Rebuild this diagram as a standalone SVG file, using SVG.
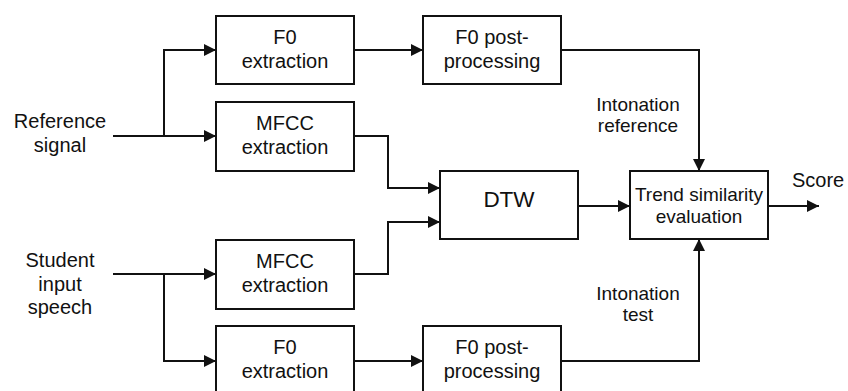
<svg xmlns="http://www.w3.org/2000/svg" width="848" height="391" viewBox="0 0 848 391">
  <defs>
    <marker id="arrow" markerUnits="userSpaceOnUse" markerWidth="12" markerHeight="12" refX="12" refY="6" orient="auto">
      <path d="M0,0 L12,6 L0,12 Z" fill="#111"/>
    </marker>
    <style>
      .box { fill: #fff; stroke: #111; stroke-width: 2; }
      .lbl { font-family: "Liberation Sans", Arial, sans-serif; font-size: 20px; fill: #111; text-anchor: middle; }
      .sm { font-size: 19px; }
      .big { font-size: 22.5px; }
      .wire { fill: none; stroke: #111; stroke-width: 2; }
      .arr { marker-end: url(#arrow); }
    </style>
  </defs>
  <rect width="848" height="391" fill="#fff"/>

  <!-- free labels -->
  <g id="ref-signal">
    <text class="lbl" x="60" y="128">Reference</text>
    <text class="lbl" x="60" y="152">signal</text>
  </g>
  <g id="student-speech">
    <text class="lbl" x="60" y="267">Student</text>
    <text class="lbl" x="60" y="291">input</text>
    <text class="lbl" x="60" y="314">speech</text>
  </g>
  <g id="lbl-into-ref">
    <text class="lbl sm" x="638" y="111">Intonation</text>
    <text class="lbl sm" x="638" y="132">reference</text>
  </g>
  <g id="lbl-into-test">
    <text class="lbl sm" x="638" y="300">Intonation</text>
    <text class="lbl sm" x="638" y="321">test</text>
  </g>
  <g id="score">
    <text class="lbl" x="792" y="187" style="text-anchor:start">Score</text>
  </g>

  <!-- processing blocks -->
  <g id="f0-extract-ref">
    <rect class="box" x="216" y="16" width="138" height="68"/>
    <text class="lbl" x="285" y="44">F0</text>
    <text class="lbl" x="285" y="68">extraction</text>
  </g>
  <g id="f0-post-ref">
    <rect class="box" x="423" y="16" width="138" height="68"/>
    <text class="lbl" x="492" y="44">F0 post-</text>
    <text class="lbl" x="492" y="68">processing</text>
  </g>
  <g id="mfcc-ref">
    <rect class="box" x="216" y="102" width="138" height="69"/>
    <text class="lbl" x="285" y="130">MFCC</text>
    <text class="lbl" x="285" y="154">extraction</text>
  </g>
  <g id="dtw">
    <rect class="box" x="440" y="171" width="138" height="68"/>
    <text class="lbl big" x="509" y="207">DTW</text>
  </g>
  <g id="trend">
    <rect class="box" x="630" y="171" width="138" height="68"/>
    <text class="lbl sm" x="699" y="201">Trend similarity</text>
    <text class="lbl sm" x="699" y="223">evaluation</text>
  </g>
  <g id="mfcc-test">
    <rect class="box" x="216" y="240" width="138" height="69"/>
    <text class="lbl" x="285" y="268">MFCC</text>
    <text class="lbl" x="285" y="292">extraction</text>
  </g>
  <g id="f0-extract-test">
    <rect class="box" x="216" y="326" width="138" height="68"/>
    <text class="lbl" x="285" y="354">F0</text>
    <text class="lbl" x="285" y="378">extraction</text>
  </g>
  <g id="f0-post-test">
    <rect class="box" x="423" y="326" width="138" height="68"/>
    <text class="lbl" x="492" y="354">F0 post-</text>
    <text class="lbl" x="492" y="378">processing</text>
  </g>

  <!-- connectors -->
  <g id="connectors">
    <path class="wire arr" d="M113,136 H216"/>
    <path class="wire arr" d="M164,136 V50 H216"/>
    <path class="wire arr" d="M354,50 H423"/>
    <path class="wire arr" d="M561,50 H699 V171"/>
    <path class="wire arr" d="M354,136 H388 V188 H440"/>
    <path class="wire arr" d="M354,274 H388 V222 H440"/>
    <path class="wire arr" d="M578,206 H630"/>
    <path class="wire arr" d="M768,206 H819"/>
    <path class="wire arr" d="M113,274 H216"/>
    <path class="wire arr" d="M164,274 V361 H216"/>
    <path class="wire arr" d="M354,361 H423"/>
    <path class="wire arr" d="M561,361 H699 V239"/>
  </g>
</svg>
